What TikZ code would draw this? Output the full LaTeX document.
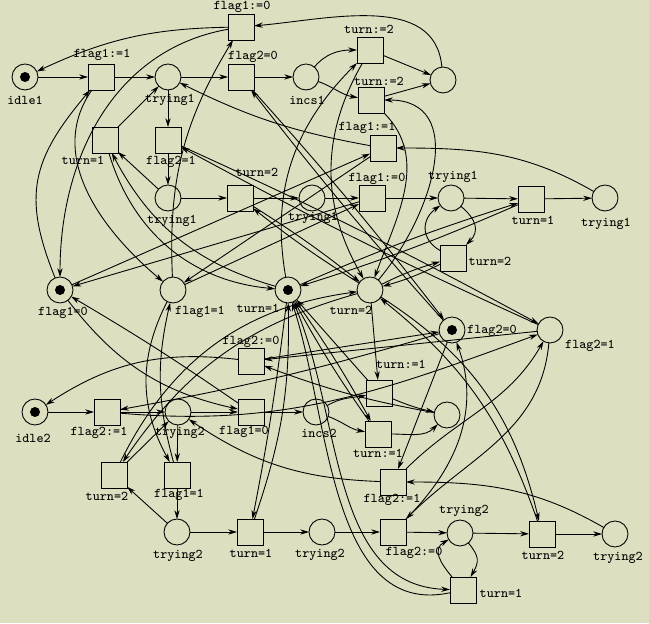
\documentclass[tikz,border=0pt]{standalone}
\usepackage{tikz}
\usepackage{tkz-graph}
\usetikzlibrary{arrows.meta}
\definecolor{paper}{RGB}{222,222,192}

\begin{document}
\begin{tikzpicture}[font=\fontsize{7.6}{9}\ttfamily]
            \fill[paper] (0,0) rectangle (12.98,12.46);
            \useasboundingbox (0,0) rectangle (12.98,12.46);
            \GraphInit[vstyle=Normal];
            \tikzset{arcline/.style={->,>={Stealth[length=5pt,width=3pt]},line width=0.5pt}};

            \SetVertexNormal[Shape=circle,MinSize=0.52cm,FillColor=paper,LineWidth=0.5pt]
            \Vertex[x=0.50,y=10.92,NoLabel=true]{idleA};
            \Vertex[x=3.36,y=10.92,NoLabel=true]{tryAa};
            \Vertex[x=6.12,y=10.92,NoLabel=true]{incsA};
            \Vertex[x=8.86,y=10.86,NoLabel=true]{doneA};
            \Vertex[x=3.36,y=8.50,NoLabel=true]{tryAb};
            \Vertex[x=6.24,y=8.50,NoLabel=true]{tryAc};
            \Vertex[x=9.02,y=8.50,NoLabel=true]{tryAd};
            \Vertex[x=12.10,y=8.50,NoLabel=true]{tryAe};
            \Vertex[x=1.20,y=6.66,NoLabel=true]{fAzero};
            \Vertex[x=3.46,y=6.66,NoLabel=true]{fAone};
            \Vertex[x=5.76,y=6.66,NoLabel=true]{tOne};
            \Vertex[x=7.40,y=6.66,NoLabel=true]{tTwo};
            \Vertex[x=9.04,y=5.86,NoLabel=true]{fBzero};
            \Vertex[x=11.00,y=5.86,NoLabel=true]{fBone};
            \Vertex[x=0.70,y=4.22,NoLabel=true]{idleB};
            \Vertex[x=3.56,y=4.22,NoLabel=true]{tryBa};
            \Vertex[x=6.32,y=4.22,NoLabel=true]{incsB};
            \Vertex[x=8.94,y=4.16,NoLabel=true]{doneB};
            \Vertex[x=3.54,y=1.82,NoLabel=true]{tryBb};
            \Vertex[x=6.44,y=1.82,NoLabel=true]{tryBc};
            \Vertex[x=9.20,y=1.80,NoLabel=true]{tryBd};
            \Vertex[x=12.30,y=1.78,NoLabel=true]{tryBe};

            \SetVertexNormal[Shape=rectangle,MinSize=0.52cm,FillColor=paper,LineWidth=0.5pt]
            \Vertex[x=4.82,y=11.92,NoLabel=true]{setAzero};
            \Vertex[x=2.02,y=10.92,NoLabel=true]{setAone};
            \Vertex[x=4.82,y=10.92,NoLabel=true]{askBzero};
            \Vertex[x=7.40,y=11.46,NoLabel=true]{putTwoA};
            \Vertex[x=7.42,y=10.46,NoLabel=true]{putTwoB};
            \Vertex[x=2.10,y=9.66,NoLabel=true]{askOneA};
            \Vertex[x=3.36,y=9.66,NoLabel=true]{askBone};
            \Vertex[x=7.66,y=9.50,NoLabel=true]{backAone};
            \Vertex[x=4.80,y=8.50,NoLabel=true]{askTwoA};
            \Vertex[x=7.44,y=8.50,NoLabel=true]{backAzero};
            \Vertex[x=10.62,y=8.48,NoLabel=true]{askOneB};
            \Vertex[x=9.06,y=7.30,NoLabel=true]{askTwoB};
            \Vertex[x=5.02,y=5.24,NoLabel=true]{setBzero};
            \Vertex[x=7.58,y=4.60,NoLabel=true]{putOneA};
            \Vertex[x=2.14,y=4.22,NoLabel=true]{setBone};
            \Vertex[x=5.02,y=4.22,NoLabel=true]{askAzero};
            \Vertex[x=7.56,y=3.78,NoLabel=true]{putOneB};
            \Vertex[x=2.28,y=2.96,NoLabel=true]{askTwoC};
            \Vertex[x=3.54,y=2.96,NoLabel=true]{askAone};
            \Vertex[x=7.86,y=2.82,NoLabel=true]{backBone};
            \Vertex[x=5.00,y=1.82,NoLabel=true]{askOneC};
            \Vertex[x=7.86,y=1.82,NoLabel=true]{backBzero};
            \Vertex[x=10.84,y=1.78,NoLabel=true]{askTwoD};
            \Vertex[x=9.26,y=0.66,NoLabel=true]{askOneD};

            \fill (idleA) circle (0.1);
            \fill (fAzero) circle (0.1);
            \fill (tOne) circle (0.1);
            \fill (fBzero) circle (0.1);
            \fill (idleB) circle (0.1);

            \node (lbIdleA) at (0.50,10.46){idle1};
            \node (lbSetAone) at (2.04,11.36){flag1:=1};
            \node (lbTryAa) at (3.40,10.46){trying1};
            \node (lbSetAzero) at (4.84,12.32){flag1:=0};
            \node (lbAskBzero) at (5.06,11.32){flag2=0};
            \node (lbIncsA) at (6.14,10.46){incs1};
            \node (lbPutTwoA) at (7.38,11.88){turn:=2};
            \node (lbPutTwoB) at (7.58,10.84){turn:=2};
            \node (lbAskOneA) at (1.66,9.26){turn=1};
            \node (lbAskBone) at (3.42,9.22){flag2=1};
            \node (lbBackAone) at (7.34,9.90){flag1:=1};
            \node (lbTryAb) at (3.44,8.04){trying1};
            \node (lbAskTwoA) at (5.14,9.02){turn=2};
            \node (lbTryAc) at (6.26,8.10){trying1};
            \node (lbBackAzero) at (7.54,8.88){flag1:=0};
            \node (lbTryAd) at (9.06,8.92){trying1};
            \node (lbAskOneB) at (10.66,8.06){turn=1};
            \node (lbTryAe) at (12.12,7.98){trying1};
            \node (lbAskTwoB) at (9.80,7.24){turn=2};
            \node (lbFAzero) at (1.26,6.20){flag1=0};
            \node (lbFAone) at (4.00,6.22){flag1=1};
            \node (lbTOne) at (5.16,6.30){turn=1};
            \node (lbTTwo) at (7.02,6.26){turn=2};
            \node (lbFBzero) at (9.84,5.84){flag2=0};
            \node (lbFBone) at (11.80,5.54){flag2=1};
            \node (lbSetBzero) at (5.02,5.62){flag2:=0};
            \node (lbPutOneA) at (8.02,5.18){turn:=1};
            \node (lbIdleB) at (0.66,3.70){idle2};
            \node (lbSetBone) at (1.98,3.80){flag2:=1};
            \node (lbTryBa) at (3.60,3.80){trying2};
            \node (lbAskAzero) at (4.88,3.82){flag1=0};
            \node (lbIncsB) at (6.38,3.80){incs2};
            \node (lbPutOneB) at (7.56,3.40){turn:=1};
            \node (lbAskTwoC) at (2.14,2.54){turn=2};
            \node (lbAskAone) at (3.58,2.56){flag1=1};
            \node (lbBackBone) at (7.84,2.46){flag2:=1};
            \node (lbTryBb) at (3.56,1.34){trying2};
            \node (lbAskOneC) at (5.02,1.40){turn=1};
            \node (lbTryBc) at (6.40,1.36){trying2};
            \node (lbBackBzero) at (8.28,1.40){flag2:=0};
            \node (lbTryBd) at (9.28,2.24){trying2};
            \node (lbAskTwoD) at (10.86,1.36){turn=2};
            \node (lbTryBe) at (12.36,1.30){trying2};
            \node (lbAskOneD) at (10.02,0.60){turn=1};

            \draw[arcline] (idleA) -- (setAone);
            \draw[arcline] (setAone) -- (tryAa);
            \draw[arcline] (tryAa) -- (askBzero);
            \draw[arcline] (askBzero) -- (incsA);
            \draw[arcline] (incsA) to[out=50,in=180] (putTwoA);
            \draw[arcline] (incsA) to[out=-20,in=170] (putTwoB);
            \draw[arcline] (putTwoA) -- (doneA);
            \draw[arcline] (putTwoB) -- (doneA);
            \draw[arcline] (doneA) to[out=95,in=5] (setAzero);
            \draw[arcline] (setAzero) to[bend right=12] (idleA);
            \draw[arcline] (tryAa) -- (askBone);
            \draw[arcline] (askBone) -- (tryAb);
            \draw[arcline] (tryAb) -- (askOneA);
            \draw[arcline] (askOneA) -- (tryAa);
            \draw[arcline] (tryAb) -- (askTwoA);
            \draw[arcline] (askTwoA) -- (tryAc);
            \draw[arcline] (tryAc) -- (backAzero);
            \draw[arcline] (backAzero) -- (tryAd);
            \draw[arcline] (tryAd) -- (askOneB);
            \draw[arcline] (askOneB) -- (tryAe);
            \draw[arcline] (tryAe) to[out=150,in=0] (backAone);
            \draw[arcline] (backAone) to[bend left=8] (tryAa);
            \draw[arcline] (tryAd) to[out=-40,in=45,looseness=1.3] (askTwoB);
            \draw[arcline] (askTwoB) to[out=150,in=215,looseness=1.3] (tryAd);

            \draw[arcline] (fAzero) to[out=112,in=230,looseness=1.2] (setAone);
            \draw[arcline] (setAone) to[out=235,in=140] (fAone);
            \draw[arcline] (fAone) to[bend left=17] (setAzero);
            \draw[arcline] (setAzero) to[out=190,in=90] (fAzero);
            \draw[arcline] (fAzero) -- (backAone);
            \draw[arcline] (backAone) -- (fAone);
            \draw[arcline] (fAone) -- (backAzero);
            \draw[arcline] (backAzero) -- (fAzero);

            \draw[arcline] (askBzero) to[bend left=2] (fBzero);
            \draw[arcline] (fBzero) to[bend left=2] (askBzero);
            \draw[arcline] (askBone) to[bend left=2] (fBone);
            \draw[arcline] (fBone) to[bend left=2] (askBone);
            \draw[arcline] (askOneA) to[bend right=34] (tOne);
            \draw[arcline] (tOne) to[bend left=23] (askOneA);
            \draw[arcline] (askTwoA) to[bend left=3] (tTwo);
            \draw[arcline] (tTwo) to[bend left=3] (askTwoA);
            \draw[arcline] (askOneB) to[bend left=3] (tOne);
            \draw[arcline] (tOne) to[bend left=3] (askOneB);
            \draw[arcline] (askTwoB) to[bend left=5] (tTwo);
            \draw[arcline] (tTwo) to[bend left=5] (askTwoB);
            \draw[arcline] (tOne) to[out=100,in=225] (putTwoA);
            \draw[arcline] (putTwoA) to[out=240,in=120] (tTwo);
            \draw[arcline] (putTwoB) to[out=-45,in=70] (tTwo);
            \draw[arcline] (tTwo) to[out=50,in=0,looseness=1.2] (putTwoB);

            \draw[arcline] (idleB) -- (setBone);
            \draw[arcline] (setBone) -- (tryBa);
            \draw[arcline] (tryBa) -- (askAzero);
            \draw[arcline] (askAzero) -- (incsB);
            \draw[arcline] (incsB) to[out=30,in=190] (putOneA);
            \draw[arcline] (incsB) to[out=-20,in=170] (putOneB);
            \draw[arcline] (putOneA) to[bend right=5] (doneB);
            \draw[arcline] (putOneB) to[out=0,in=225] (doneB);
            \draw[arcline] (doneB) to[bend left=5] (setBzero);
            \draw[arcline] (setBzero) to[bend right=20] (idleB);
            \draw[arcline] (tryBa) -- (askAone);
            \draw[arcline] (askAone) -- (tryBb);
            \draw[arcline] (tryBb) -- (askTwoC);
            \draw[arcline] (askTwoC) -- (tryBa);
            \draw[arcline] (tryBb) -- (askOneC);
            \draw[arcline] (askOneC) -- (tryBc);
            \draw[arcline] (tryBc) -- (backBzero);
            \draw[arcline] (backBzero) -- (tryBd);
            \draw[arcline] (tryBd) -- (askTwoD);
            \draw[arcline] (askTwoD) -- (tryBe);
            \draw[arcline] (tryBe) to[out=150,in=0] (backBone);
            \draw[arcline] (backBone) to[bend left=16] (tryBa);
            \draw[arcline] (tryBd) to[out=-50,in=60,looseness=1.3] (askOneD);
            \draw[arcline] (askOneD) to[out=130,in=210,looseness=1.3] (tryBd);

            \draw[arcline] (fBzero) to[bend left=3] (setBone);
            \draw[arcline] (setBone) to[out=-5,in=200] (fBone);
            \draw[arcline] (fBone) -- (setBzero);
            \draw[arcline] (setBzero) -- (fBzero);
            \draw[arcline] (fBone) to[out=-95,in=45] (backBzero);
            \draw[arcline] (backBzero) to[out=45,in=-70] (fBzero);
            \draw[arcline] (fBzero) -- (backBone);
            \draw[arcline] (backBone) to[out=45,in=-120] (fBone);

            \draw[arcline] (fAzero) to[bend right=20] (askAzero);
            \draw[arcline] (askAzero) to[bend right=2] (fAzero);
            \draw[arcline] (fAone) to[bend right=28] (askAone);
            \draw[arcline] (askAone) to[bend left=14] (fAone);
            \draw[arcline] (tTwo) to[bend right=20] (askTwoC);
            \draw[arcline] (askTwoC) to[bend left=28] (tTwo);
            \draw[arcline] (tOne) to[bend left=2] (askOneC);
            \draw[arcline] (askOneC) to[bend right=10] (tOne);
            \draw[arcline] (tTwo) to[bend left=22] (askTwoD);
            \draw[arcline] (askTwoD) to[bend right=16] (tTwo);
            \draw[arcline] (tOne) to[out=-66,in=178,looseness=0.95] (askOneD);
            \draw[arcline] (askOneD) to[out=192,in=-72,looseness=0.95] (tOne);
            \draw[arcline] (tTwo) -- (putOneA);
            \draw[arcline] (putOneA) -- (tOne);
            \draw[arcline] (putOneB) to[bend left=3] (tOne);
            \draw[arcline] (tOne) to[bend left=3] (putOneB);
\end{tikzpicture}
\end{document}
